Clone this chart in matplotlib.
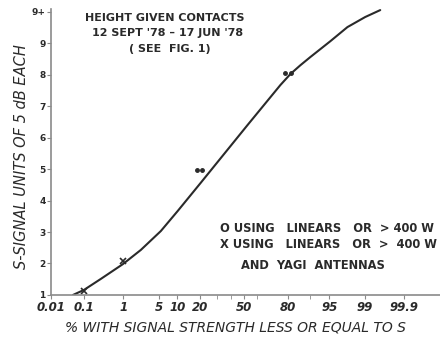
from statistics import NormalDist
import numpy as np
from matplotlib import pyplot as plt

# curve: % with signal <= S vs S-units
curve_pct = [0.049, 0.102, 0.29, 0.98, 2.34, 5.45, 10.1, 20.2, 52.8, 75.9, 81.5,
             86.2, 90.0, 95.2, 97.7, 99.03, 99.57]
curve_s = [1.0, 1.16, 1.51, 1.98, 2.43, 3.03, 3.67, 4.56, 6.40, 7.67, 8.02,
           8.30, 8.56, 9.06, 9.51, 9.83, 10.05]

# plotted observations
dot_pct = [18.1, 20.8, 78.3, 82.0]
dot_s = [4.97, 4.97, 8.05, 8.05]
x_pct = [0.1, 1]
x_s = [1.12, 2.08]

xtick_vals = [0.01, 0.1, 1, 5, 10, 20, 50, 80, 95, 99, 99.9]
xtick_text = ["0.01", "0.1", "1", "5", "10", "20", "50", "80", "95", "99", "99.9"]
xminor_vals = [30, 40, 60, 90]
ytick_vals = [1, 2, 3, 4, 5, 6, 7, 8, 9, 10]
ytick_text = ["1", "2", "3", "4", "5", "6", "7", "8", "9", "9+"]

nd = NormalDist()
_fwd = np.vectorize(lambda p: nd.inv_cdf(min(max(p, 1e-6), 100 - 1e-6) / 100.0))
_inv = np.vectorize(lambda z: 100.0 * nd.cdf(z))


def fwd(p):
    return _fwd(np.asarray(p, dtype=float))


def inv(z):
    return _inv(np.asarray(z, dtype=float))


ink = "#2a2a2a"
grey = "#8a8a8a"

fig = plt.figure(figsize=(4.4, 3.41), dpi=100)
ax = fig.add_axes([0.116, 0.135, 0.884, 0.840])
ax.set_xscale("function", functions=(fwd, inv))
ax.set_xlim(0.01, inv(3.78))
ax.set_ylim(1, 10.1)

ax.plot(curve_pct, curve_s, color=ink, lw=1.5, solid_capstyle="round",
        solid_joinstyle="round")
ax.plot(dot_pct, dot_s, "o", color=ink, ms=2.5, ls="none")
ax.plot(x_pct, x_s, "x", color=ink, ms=4, mew=1.2, ls="none")

for s in ["top", "right"]:
    ax.spines[s].set_visible(False)
for s in ["left", "bottom"]:
    ax.spines[s].set_color(grey)
    ax.spines[s].set_linewidth(1.2)

ax.set_xticks(xtick_vals)
ax.set_xticklabels(xtick_text)
ax.set_xticks(xminor_vals, minor=True)
ax.set_yticks(ytick_vals)
ax.set_yticklabels(ytick_text)
ax.tick_params(axis="x", which="both", direction="out", length=3, color=grey,
               labelsize=8.5, labelcolor=ink, pad=1)
ax.tick_params(axis="y", direction="out", length=3, color=grey,
               labelsize=6.5, labelcolor=ink, pad=1)
for lab in ax.get_xticklabels():
    lab.set_fontstyle("italic")
    lab.set_fontweight("bold")
for lab in ax.get_yticklabels():
    lab.set_fontweight("bold")

fig.text(0.05, 0.54, "S-SIGNAL UNITS OF 5 dB EACH", rotation=90, ha="center",
         va="center", fontsize=10.5, fontstyle="italic", color=ink)
fig.text(0.534, 0.041, "% WITH SIGNAL STRENGTH LESS OR EQUAL TO S", ha="center",
         va="center", fontsize=10, fontstyle="italic", color=ink)

hdr = dict(ha="center", va="center", fontsize=8, fontweight="bold", color=ink)
fig.text(0.375, 0.948, "HEIGHT GIVEN CONTACTS", **hdr)
fig.text(0.38, 0.903, "12 SEPT '78 \u2013 17 JUN '78", **hdr)
fig.text(0.385, 0.856, "( SEE  FIG. 1)", **hdr)

leg = dict(ha="left", va="center", fontsize=8.3, fontweight="bold", color=ink)
fig.text(0.50, 0.331, "O USING   LINEARS   OR  > 400 W", **leg)
fig.text(0.50, 0.282, "X USING   LINEARS   OR  >  400 W", **leg)
fig.text(0.548, 0.220, "AND  YAGI  ANTENNAS", **leg)

fig.savefig("out.png", dpi=100)
